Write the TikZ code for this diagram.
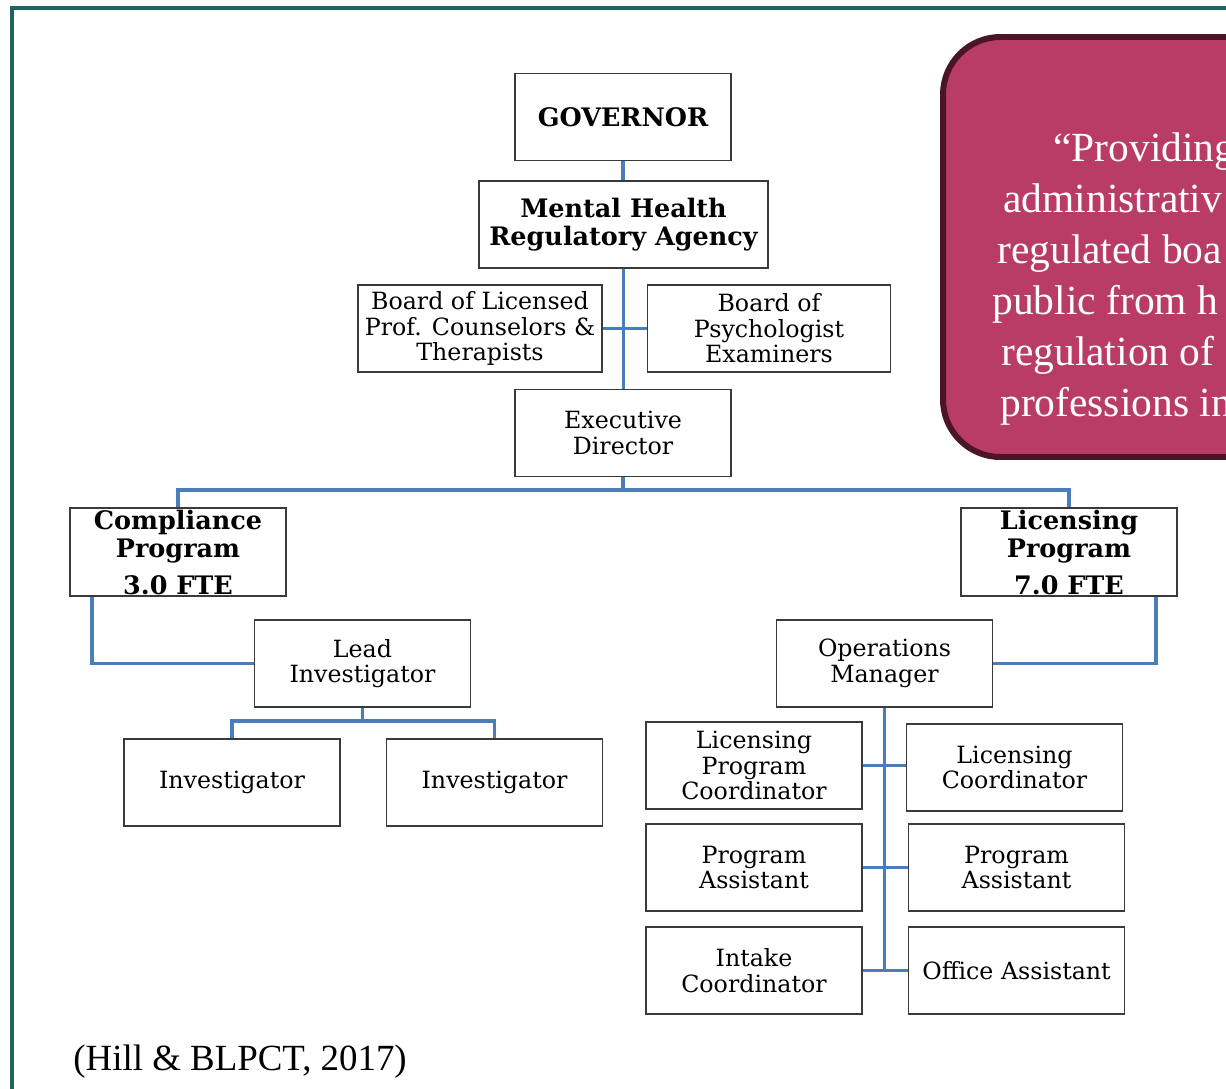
\documentclass[tikz,border=0pt]{standalone}
\usepackage{fontspec}
\setmainfont{DejaVu Serif}
\newfontfamily\quotefont{Liberation Serif}
\usetikzlibrary{positioning}
\definecolor{linkblue}{HTML}{4A7EBB}
\definecolor{frameteal}{HTML}{1E6461}
\definecolor{quotefill}{HTML}{B83C65}
\definecolor{quoteedge}{HTML}{4B1427}
\definecolor{boxgray}{HTML}{3A3A3A}

\begin{document}
\begin{tikzpicture}[x=0.02cm, y=-0.02cm, node distance=0.9cm,
	box/.style={draw=boxgray, line width=0.9pt, rectangle, minimum width=4.32cm, minimum height=1.74cm, align=center, inner sep=1pt, font=\fontsize{13.5}{14.5}\selectfont},
	head/.style={box, font=\fontsize{14.5}{16}\selectfont\bfseries},
	link/.style={draw=linkblue, line width=2.2pt},
	quoteline/.style={anchor=base west, text=white, inner sep=0pt, font=\quotefont\fontsize{23.6}{29}\selectfont}]
	\clip (0,0) rectangle (1226,1088);
	
	% Frame and quote panel
	\draw[frameteal, line width=2.3pt] (12,1120) -- (12,8) -- (1260,8);
	\draw[quoteedge, fill=quotefill, line width=3.4pt, rounded corners=1.15cm] (943,37) rectangle (1320,457);
	\node[quoteline] (q1) at (1053,161) {“Providing};
	\node[quoteline] (q2) at (1003,212) {administrativ};
	\node[quoteline] (q3) at (997,263) {regulated boa};
	\node[quoteline] (q4) at (992,314) {public from h};
	\node[quoteline] (q5) at (1001,365) {regulation of};
	\node[quoteline] (q6) at (1000,416) {professions in};
	
	% Define nodes
	\node[head] (gov) at (623,117) {GOVERNOR};
	\node[head, minimum width=5.78cm] (mhra) at (623.5,224.5) {Mental Health\\Regulatory Agency};
	\node[box, minimum width=4.88cm] (blpct) at (480,328.5) {Board of Licensed\\Prof. Counselors \&\\Therapists};
	\node[box, minimum width=4.86cm, right=0.88cm of blpct] (bpe) {Board of\\Psychologist\\Examiners};
	\node[box] (exec) at (623,433) {Executive\\Director};
	\node[head] (comp) at (178,552) {Compliance\\Program\\[5pt]3.0 FTE};
	\node[head] (lic) at (1069,552) {Licensing\\Program\\[5pt]7.0 FTE};
	\node[box] (lead) at (362.5,663.5) {Lead\\Investigator};
	\node[box] (inv1) at (232,782.5) {Investigator};
	\node[box, right=of inv1] (inv2) {Investigator};
	\node[box] (ops) at (884.5,663.5) {Operations\\Manager};
	\node[box] (lpc) at (754,765.5) {Licensing\\Program\\Coordinator};
	\node[box] (lc) at (1014.5,767.5) {Licensing\\Coordinator};
	\node[box] (pa1) at (754,867.5) {Program\\Assistant};
	\node[box, right=of pa1] (pa2) {Program\\Assistant};
	\node[box] (ic) at (754,970.5) {Intake\\Coordinator};
	\node[box, right=of ic] (oa) {Office Assistant};
	
	% Connectors
	\draw[link] (gov.south) -- (gov.south |- mhra.north);
	\draw[link] (mhra.south) -- (mhra.south |- exec.north);
	\draw[link] (blpct.east) -- (bpe.west);
	\coordinate (split) at (623,490);
	\draw[link] (exec.south) -- (split) -| (comp.north);
	\draw[link] (split) -| (lic.north);
	\draw[link] (comp.south west) ++(23,0) |- (lead.west);
	\draw[link] (lic.south east) ++(-22,0) |- (ops.east);
	\draw[link] (lead.south) -- ++(0,13) -| (inv1.north);
	\draw[link] (lead.south) ++(0,13) -| (inv2.north);
	\draw[link] (ops.south) -- (ops.south |- oa.west);
	\draw[link] (lpc.east) -- (lpc.east -| lc.west);
	\draw[link] (pa1.east) -- (pa2.west);
	\draw[link] (ic.east) -- (oa.west);
	
	% Source
	\node[anchor=base west, inner sep=0pt, font=\quotefont\fontsize{21}{25}\selectfont] (cite) at (73,1070) {(Hill \& BLPCT, 2017)};
\end{tikzpicture}
\end{document}
